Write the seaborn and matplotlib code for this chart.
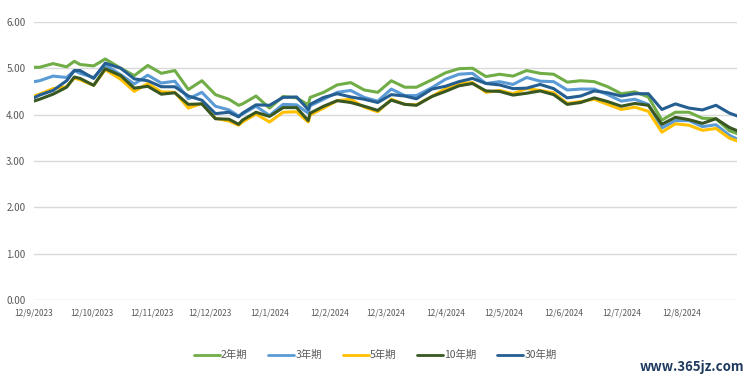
import pandas as pd
import seaborn as sns
import matplotlib.pyplot as plt

sns.set_style("white")
plt.rcParams['font.family'] = ['Noto Sans CJK SC', 'DejaVu Sans']

# Trading dates (roughly weekly)
dates = [
    "2023-09-12", "2023-09-15", "2023-09-22", "2023-09-29", "2023-10-03", "2023-10-06",
    "2023-10-13", "2023-10-19", "2023-10-27", "2023-11-03", "2023-11-10", "2023-11-17",
    "2023-11-24", "2023-12-01", "2023-12-08", "2023-12-15", "2023-12-22", "2023-12-27",
    "2023-12-29", "2024-01-05", "2024-01-12", "2024-01-19", "2024-01-26", "2024-02-01",
    "2024-02-02", "2024-02-09", "2024-02-16", "2024-02-23", "2024-03-01", "2024-03-08",
    "2024-03-15", "2024-03-22", "2024-03-28", "2024-04-05", "2024-04-12", "2024-04-19",
    "2024-04-26", "2024-05-03", "2024-05-10", "2024-05-17", "2024-05-24", "2024-05-31",
    "2024-06-07", "2024-06-14", "2024-06-21", "2024-06-28", "2024-07-05", "2024-07-12",
    "2024-07-19", "2024-07-26", "2024-08-02", "2024-08-09", "2024-08-16", "2024-08-23",
    "2024-08-30", "2024-09-06", "2024-09-10",
]

y2 = [5.02, 5.02, 5.10, 5.03, 5.15, 5.08, 5.05, 5.20, 5.00, 4.84, 5.06, 4.89,
      4.95, 4.54, 4.73, 4.43, 4.33, 4.20, 4.23, 4.40, 4.14, 4.39, 4.36, 4.21,
      4.37, 4.48, 4.64, 4.69, 4.53, 4.48, 4.73, 4.59, 4.59, 4.75, 4.90, 4.99,
      5.00, 4.82, 4.87, 4.83, 4.95, 4.89, 4.87, 4.70, 4.73, 4.71, 4.60, 4.45,
      4.49, 4.38, 3.88, 4.05, 4.05, 3.92, 3.91, 3.65, 3.59]
y3 = [4.71, 4.73, 4.83, 4.80, 4.95, 4.89, 4.80, 5.07, 4.86, 4.66, 4.85, 4.68,
      4.72, 4.34, 4.48, 4.18, 4.10, 3.97, 4.01, 4.18, 3.98, 4.22, 4.21, 4.03,
      4.19, 4.33, 4.48, 4.52, 4.37, 4.29, 4.55, 4.41, 4.41, 4.58, 4.76, 4.87,
      4.89, 4.67, 4.71, 4.65, 4.80, 4.72, 4.71, 4.53, 4.55, 4.55, 4.43, 4.29,
      4.33, 4.22, 3.71, 3.87, 3.87, 3.74, 3.78, 3.55, 3.47]
y5 = [4.40, 4.44, 4.56, 4.60, 4.79, 4.75, 4.63, 4.97, 4.76, 4.50, 4.67, 4.49,
      4.48, 4.14, 4.24, 3.92, 3.86, 3.77, 3.84, 4.01, 3.84, 4.05, 4.06, 3.84,
      3.99, 4.14, 4.30, 4.33, 4.16, 4.06, 4.33, 4.22, 4.21, 4.39, 4.56, 4.67,
      4.69, 4.48, 4.52, 4.45, 4.56, 4.52, 4.47, 4.24, 4.28, 4.33, 4.22, 4.11,
      4.16, 4.07, 3.62, 3.80, 3.77, 3.66, 3.70, 3.49, 3.43]
y10 = [4.29, 4.33, 4.44, 4.59, 4.81, 4.78, 4.63, 4.99, 4.84, 4.57, 4.61, 4.44,
       4.47, 4.22, 4.23, 3.91, 3.90, 3.79, 3.88, 4.05, 3.96, 4.15, 4.15, 3.87,
       4.03, 4.18, 4.30, 4.26, 4.18, 4.09, 4.31, 4.22, 4.20, 4.39, 4.50, 4.62,
       4.67, 4.51, 4.50, 4.42, 4.46, 4.51, 4.43, 4.22, 4.26, 4.36, 4.28, 4.18,
       4.24, 4.20, 3.79, 3.94, 3.89, 3.81, 3.91, 3.72, 3.65]
y30 = [4.36, 4.42, 4.52, 4.73, 4.95, 4.95, 4.78, 5.11, 5.00, 4.77, 4.73, 4.60,
       4.60, 4.40, 4.31, 4.02, 4.05, 3.95, 4.03, 4.21, 4.20, 4.37, 4.38, 4.11,
       4.22, 4.37, 4.45, 4.38, 4.33, 4.26, 4.43, 4.40, 4.34, 4.55, 4.61, 4.71,
       4.78, 4.67, 4.64, 4.56, 4.57, 4.65, 4.56, 4.36, 4.40, 4.51, 4.47, 4.40,
       4.45, 4.45, 4.11, 4.23, 4.14, 4.10, 4.20, 4.03, 3.97]

labels = ["2年期", "3年期", "5年期", "10年期", "30年期"]
colors = ["#70AD47", "#5B9BD5", "#FFC000", "#385723", "#255E91"]

df = pd.DataFrame({"date": pd.to_datetime(dates)})
for lab, vals in zip(labels, [y2, y3, y5, y10, y30]):
    df[lab] = vals
long = df.melt(id_vars="date", var_name="期限", value_name="收益率")

fig = plt.figure(figsize=(7.5, 3.84), dpi=100)
ax = fig.add_axes([0.045, 0.219, 0.938, 0.724])

sns.lineplot(data=long, x="date", y="收益率", hue="期限", hue_order=labels,
             palette=colors, linewidth=2.2, ax=ax, legend=False)

ax.set_ylim(0, 6)
ax.set_yticks([0, 1, 2, 3, 4, 5, 6])
ax.yaxis.set_major_formatter(plt.FuncFormatter(lambda v, p: f"{v:.2f}"))
ax.grid(axis="y", color="#D9D9D9", linewidth=1)
ax.grid(axis="x", visible=False)
ax.set_xlim(df["date"].iloc[0], df["date"].iloc[-1])

# monthly ticks on the 12th, labelled d/m/yyyy
ticks = pd.date_range("2023-09-01", "2024-08-31", freq="MS") + pd.Timedelta(days=11)
ax.set_xticks(ticks)
ax.set_xticklabels([f"{d.day}/{d.month}/{d.year}" for d in ticks])
ax.tick_params(axis="x", labelsize=6, colors="#595959", length=0, pad=6)
ax.tick_params(axis="y", labelsize=7, colors="#595959", length=0, pad=6)
ax.set_xlabel("")
ax.set_ylabel("")
for s in ax.spines.values():
    s.set_visible(False)

handles = [plt.Line2D([], [], color=c, lw=2) for c in colors]
fig.legend(handles, labels, loc="center", bbox_to_anchor=(0.5, 0.075), ncol=5,
           frameon=False, fontsize=7.5, handlelength=2.5, handletextpad=0.1,
           columnspacing=2.0, labelcolor="#595959")

fig.text(0.992, 0.045, "www.365jz.com", ha="right", va="center",
         fontsize=9.5, fontweight="bold", color="#1F3A5F")

plt.savefig("out.png", dpi=100)
